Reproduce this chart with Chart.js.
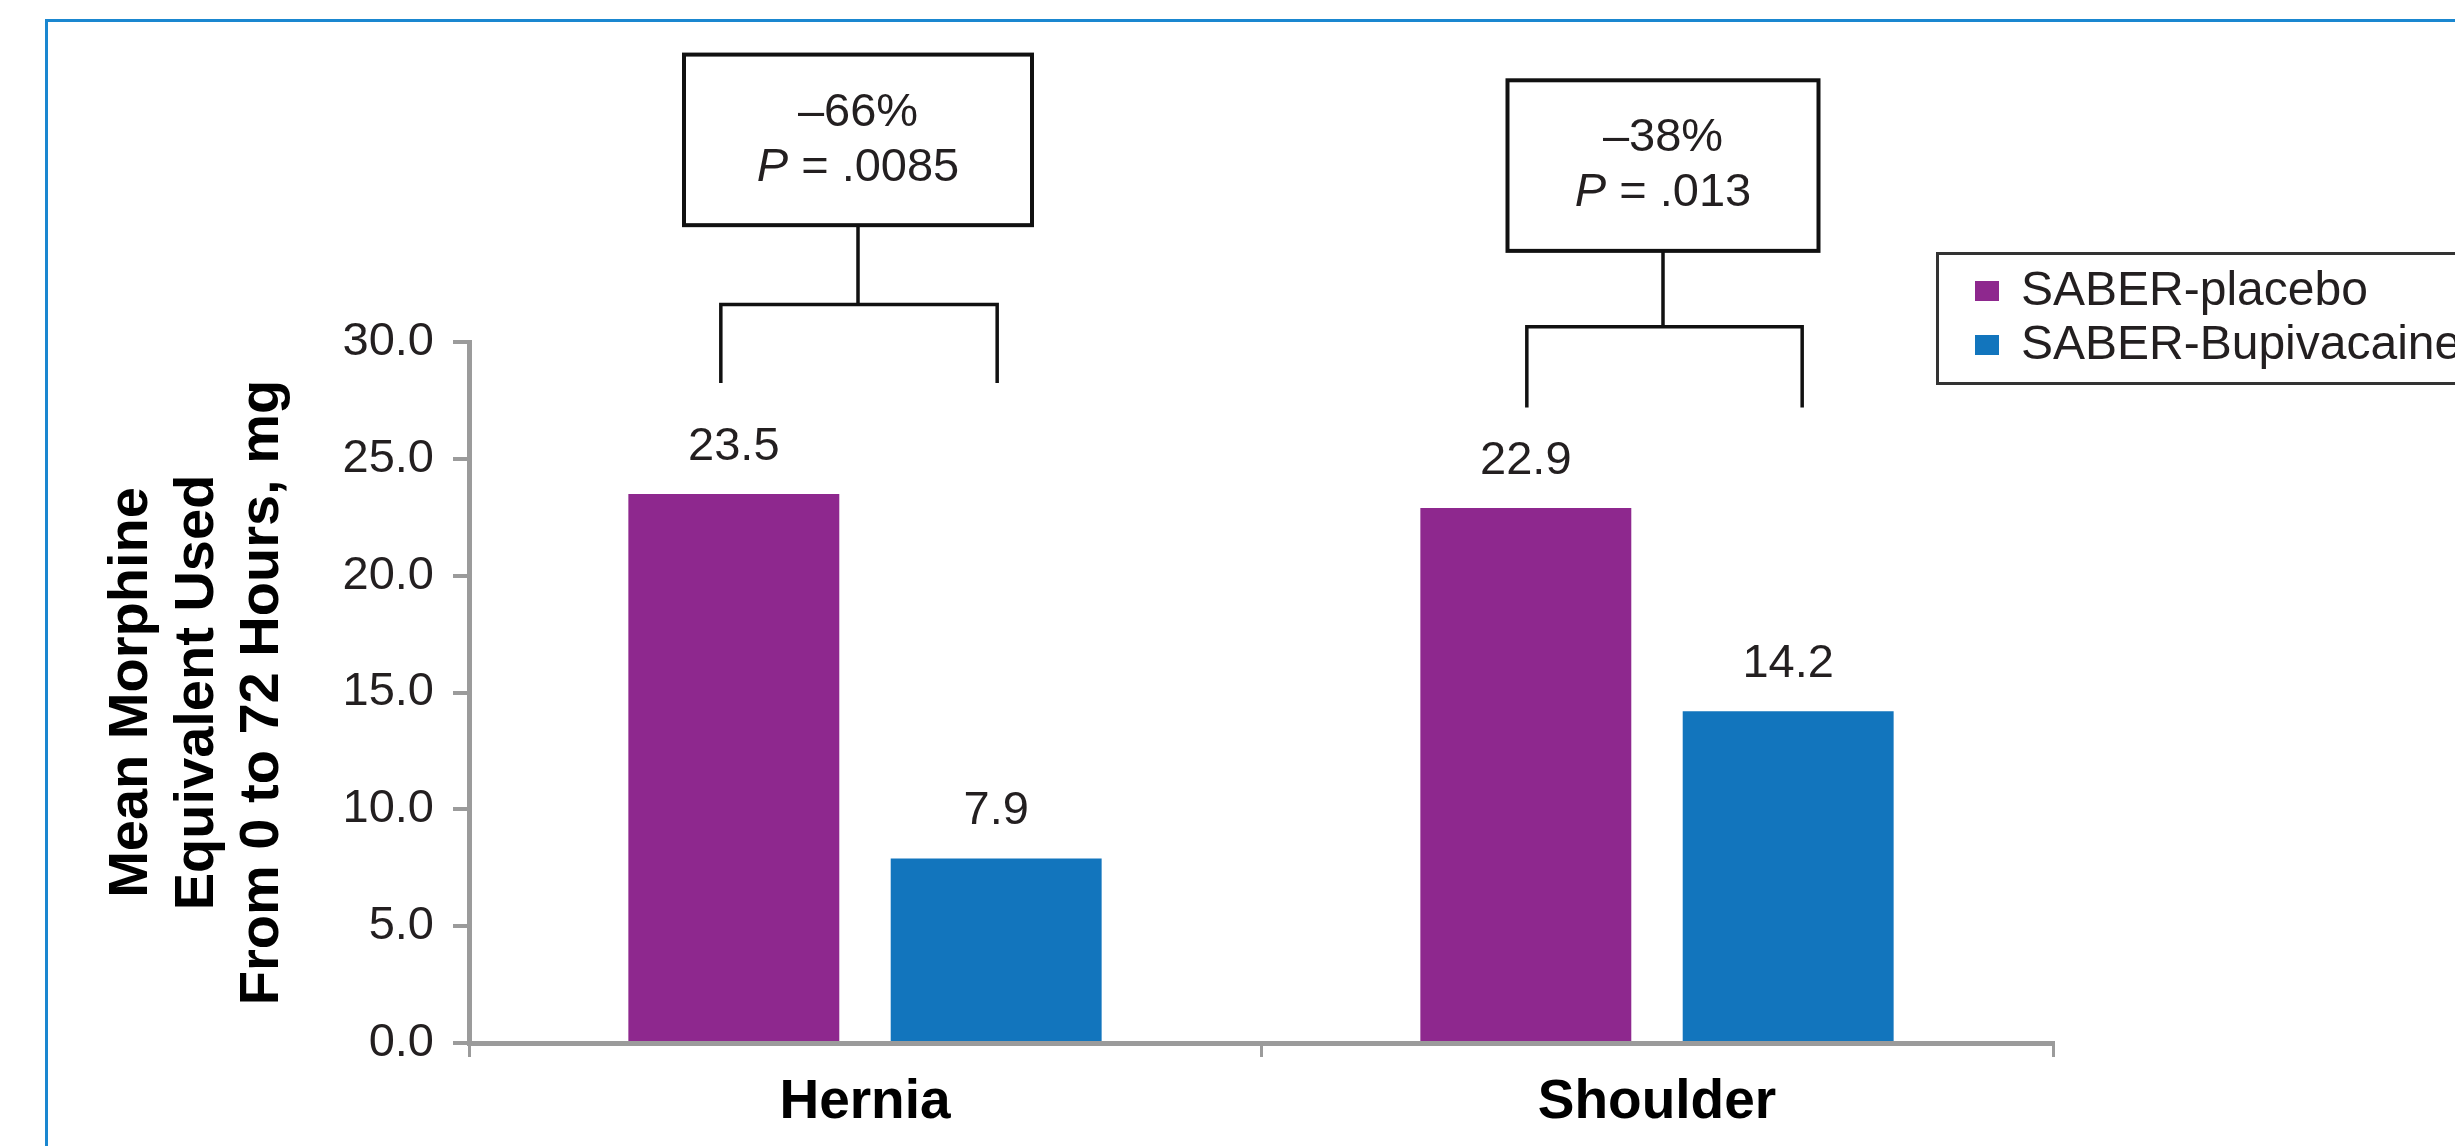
<!DOCTYPE html>
<html>
<head>
<meta charset="utf-8">
<title>Mean Morphine Equivalent Used</title>
<script src="https://cdn.jsdelivr.net/npm/chart.js@4.4.1/dist/chart.umd.min.js"></script>
<style>
    html, body { margin: 0; padding: 0; background: #fff; }
    #wrap { width: 2455px; height: 1146px; }
</style>
</head>
<body>
<div id="wrap"><canvas id="morphineChart" width="2455" height="1146"></canvas></div>
<script>
// Data
const categories = ['Hernia', 'Shoulder'];
const seriesNames = ['SABER-placebo', 'SABER-Bupivacaine'];
const placeboValues = [23.5, 22.9];
const bupivacaineValues = [7.9, 14.2];
const yTicks = [0, 5, 10, 15, 20, 25, 30];
const yTitle = ['Mean Morphine', 'Equivalent Used', 'From 0 to 72 Hours, mg'];
const changeLabels = ['\u201366%', '\u201338%'];
const pLabels = ['.0085', '.013'];

const FONT = "'Liberation Sans', Arial, Helvetica, sans-serif";
const TEXT = '#231f20';
const AXIS = '#9b9b9b';
Chart.defaults.font.family = FONT;

// Where the comparison boxes and brackets sit (y in axis units, x offsets in px)
const bracketLayout = [
    { boxTop: 42.3, boxBottom: 35.0, bar: 31.6, legs: 28.25, boxWidth: 348, stemDx: -7, legDx: [-13, 1] },
    { boxTop: 41.2, boxBottom: 33.9, bar: 30.65, legs: 27.2, boxWidth: 311, stemDx: 6, legDx: [1, 14] }
];

// White page with the blue frame at top and left
const frame = {
    id: 'frame',
    beforeDraw(chart) {
        const c = chart.ctx;
        c.save();
        c.fillStyle = '#fff';
        c.fillRect(0, 0, chart.width, chart.height);
        c.strokeStyle = '#1a87d0';
        c.lineWidth = 3;
        c.beginPath();
        c.moveTo(46.5, chart.height);
        c.lineTo(46.5, 20.5);
        c.lineTo(chart.width, 20.5);
        c.stroke();
        c.restore();
    }
};

// Numbers above the bars
const valueLabels = {
    id: 'valueLabels',
    afterDatasetsDraw(chart) {
        const c = chart.ctx;
        c.save();
        c.font = '47px ' + FONT;
        c.fillStyle = TEXT;
        c.textAlign = 'center';
        c.textBaseline = 'alphabetic';
        chart.data.datasets.forEach((ds, i) => {
            chart.getDatasetMeta(i).data.forEach((bar, j) => {
                c.fillText(ds.data[j].toFixed(1), bar.x, bar.y - 34);
            });
        });
        c.restore();
    }
};

// Boxes with % change and P value, joined to the bars by brackets
const comparisons = {
    id: 'comparisons',
    afterDatasetsDraw(chart) {
        const c = chart.ctx;
        const y = chart.scales.y;
        c.save();
        c.strokeStyle = '#111';
        bracketLayout.forEach((b, j) => {
            const bar0 = chart.getDatasetMeta(0).data[j];
            const bar1 = chart.getDatasetMeta(1).data[j];
            const x0 = bar0.x + b.legDx[0];
            const x1 = bar1.x + b.legDx[1];
            const xm = (bar0.x + bar1.x) / 2 + b.stemDx;
            const yBoxTop = y.getPixelForValue(b.boxTop);
            const yBoxBottom = y.getPixelForValue(b.boxBottom);
            const yBar = y.getPixelForValue(b.bar);
            const yLegs = y.getPixelForValue(b.legs);

            c.lineWidth = 3.5;
            c.beginPath();
            c.moveTo(x0, yLegs);
            c.lineTo(x0, yBar);
            c.lineTo(x1, yBar);
            c.lineTo(x1, yLegs);
            c.moveTo(xm, yBar);
            c.lineTo(xm, yBoxBottom);
            c.stroke();

            c.lineWidth = 4;
            c.strokeRect(xm - b.boxWidth / 2, yBoxTop, b.boxWidth, yBoxBottom - yBoxTop);

            c.fillStyle = TEXT;
            c.textBaseline = 'alphabetic';
            c.textAlign = 'center';
            c.font = '47px ' + FONT;
            c.fillText(changeLabels[j], xm, yBoxTop + 71);

            // "P" in italics, the rest upright
            const rest = ' = ' + pLabels[j];
            c.font = 'italic 47px ' + FONT;
            const wP = c.measureText('P').width;
            c.font = '47px ' + FONT;
            const wR = c.measureText(rest).width;
            const sx = xm - (wP + wR) / 2;
            c.textAlign = 'left';
            c.font = 'italic 47px ' + FONT;
            c.fillText('P', sx, yBoxTop + 126);
            c.font = '47px ' + FONT;
            c.fillText(rest, sx + wP, yBoxTop + 126);
        });
        c.restore();
    }
};

// Legend box on the right (runs off the edge like the original)
const legendBox = {
    id: 'legendBox',
    afterDraw(chart) {
        const c = chart.ctx;
        c.save();
        c.strokeStyle = '#333';
        c.lineWidth = 3;
        c.strokeRect(1937.5, 253.5, 700, 130);
        c.font = '48px ' + FONT;
        c.textBaseline = 'alphabetic';
        c.textAlign = 'left';
        chart.data.datasets.forEach((ds, i) => {
            const base = 305 + i * 54;
            c.fillStyle = ds.backgroundColor;
            c.fillRect(1975, base - 24, 24, 20);
            c.fillStyle = TEXT;
            c.fillText(ds.label, 2021, base);
        });
        c.restore();
    }
};

const ctx = document.getElementById('morphineChart').getContext('2d');
let morphineChart = new Chart(ctx, {
    type: 'bar',
    data: {
        labels: categories,
        datasets: [{
            label: seriesNames[0],
            data: placeboValues,
            backgroundColor: '#8e288e',
            categoryPercentage: 0.6625,
            barPercentage: 0.804
        }, {
            label: seriesNames[1],
            data: bupivacaineValues,
            backgroundColor: '#1275bd',
            categoryPercentage: 0.6625,
            barPercentage: 0.804
        }]
    },
    options: {
        responsive: false,
        animation: false,
        devicePixelRatio: 1,
        layout: { padding: { top: 342, right: 402, bottom: 0, left: 0 } },
        plugins: {
            legend: { display: false },
            tooltip: { enabled: false }
        },
        scales: {
            x: {
                afterFit: s => { s.height = 103; },
                grid: { drawOnChartArea: false, tickLength: 14, lineWidth: 3, color: AXIS },
                border: { color: AXIS, width: 5 },
                ticks: { color: '#000', padding: 13, font: { size: 55, weight: 'bold' } }
            },
            y: {
                min: 0,
                max: 30,
                afterFit: s => { s.width = 469; },
                afterBuildTicks: s => { s.ticks = yTicks.map(v => ({ value: v })); },
                grid: { drawOnChartArea: false, tickLength: 16, lineWidth: 4, color: AXIS },
                border: { color: AXIS, width: 5 },
                ticks: {
                    color: TEXT,
                    padding: 19,
                    font: { size: 47 },
                    callback: v => Number(v).toFixed(1)
                },
                title: {
                    display: true,
                    text: yTitle,
                    color: '#000',
                    font: { size: 56, weight: 'bold', lineHeight: 1.17 },
                    padding: { top: 99, bottom: 0 }
                }
            }
        }
    },
    plugins: [frame, valueLabels, comparisons, legendBox]
});
</script>
</body>
</html>
